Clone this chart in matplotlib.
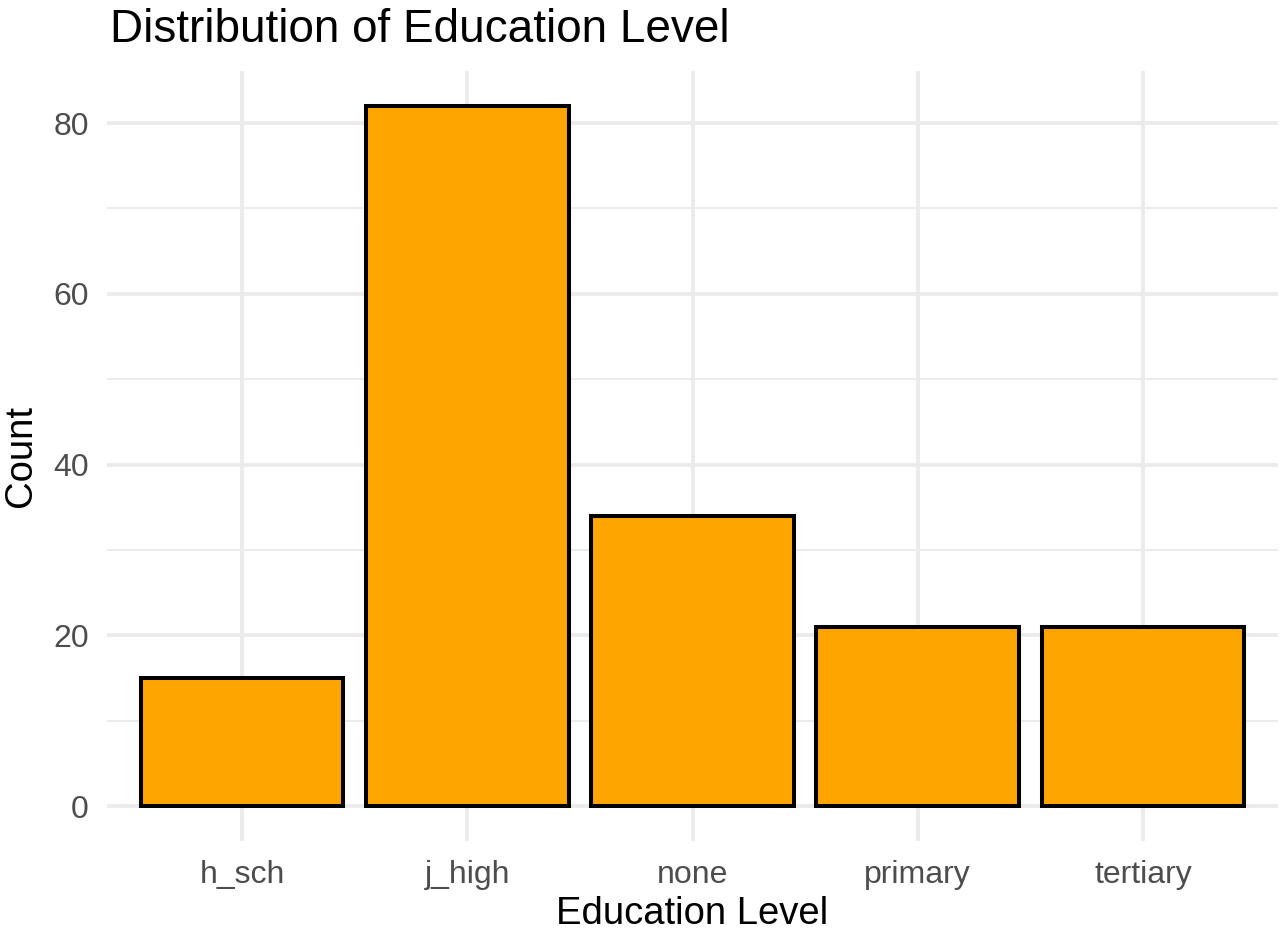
import numpy as np
import matplotlib.pyplot as plt

# -----------------------
# Data
# -----------------------
levels = ["h_sch", "j_high", "none", "primary", "tertiary"]
counts = [15, 82, 34, 21, 21]
yticks = [0, 20, 40, 60, 80]
minor_yticks = [10, 30, 50, 70]

plt.rcParams["font.family"] = ["Liberation Sans", "DejaVu Sans"]

W, H = 1280, 941
fig = plt.figure(figsize=(W / 100, H / 100), dpi=100)
ax = fig.add_axes([107 / W, 100 / H, (1278 - 107) / W, (841 - 71) / H])

x = np.arange(len(levels))
ax.bar(x, counts, width=0.9, color="#FFA500", edgecolor="black",
       linewidth=2.9, zorder=3)

ymax = max(counts)
ax.set_xlim(-0.6, len(levels) - 0.4)
ax.set_ylim(-0.05 * ymax, 1.05 * ymax)

grid = "#EBEBEB"
for y in yticks:
    ax.axhline(y, color=grid, lw=2.8, zorder=1)
for y in minor_yticks:
    ax.axhline(y, color=grid, lw=1.4, zorder=1)
for xi in x:
    ax.axvline(xi, color=grid, lw=2.8, zorder=1)

ax.set_xticks(x)
ax.set_xticklabels(levels)
ax.set_yticks(yticks)
ax.tick_params(axis="both", length=0, labelsize=23, colors="#4D4D4D")
ax.tick_params(axis="x", pad=14)
ax.tick_params(axis="y", pad=13)
for s in ax.spines.values():
    s.set_visible(False)

ax.set_xlabel("Education Level", fontsize=27.5, labelpad=4)
ax.set_ylabel("Count", fontsize=27.5, labelpad=10)
fig.text(110 / W, 1 - 30 / H, "Distribution of Education Level",
         fontsize=33, va="center", ha="left")

fig.savefig("out.png", dpi=100)
